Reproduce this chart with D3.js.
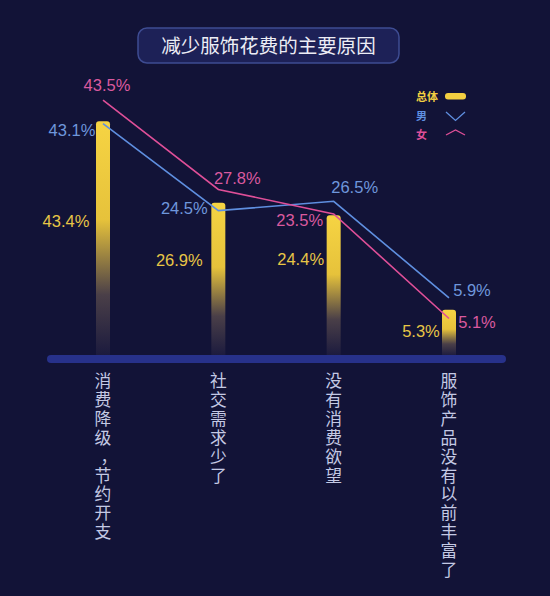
<!DOCTYPE html>
<html>
<head>
<meta charset="utf-8">
<script src="https://cdn.jsdelivr.net/npm/d3@7/dist/d3.min.js"></script>
<style>
  html, body { margin: 0; padding: 0; background: #121337; }
  svg { display: block; }
</style>
</head>
<body>
<svg id="chart" width="550" height="596"></svg>
<script>
// ---- data ----
const categories = ["消费降级，节约开支", "社交需求少了", "没有消费欲望", "服饰产品没有以前丰富了"];
const totalValues = [43.4, 26.9, 24.4, 5.3];
const maleValues = [43.1, 24.5, 26.5, 5.9];
const femaleValues = [43.5, 27.8, 23.5, 5.1];
const seriesNames = ["总体", "男", "女"];
const titleText = "减少服饰花费的主要原因";

// ---- layout (label offsets relative to their marks) ----
const totalLabelOffset = [[-37, 100], [-39, 57], [-33, 44], [-28, 21]];
const maleLabelOffset = [[-31, 6], [-34, -3], [21, -14], [23, -8]];
const femaleLabelOffset = [[4, -15], [19, -11], [-34, 6], [28, 3]];

const colors = { bg: "#121337", yellow: "#f3cf41", yellowText: "#e8c646", blue: "#5f8fe0", blueText: "#6f97dc", pink: "#df4f98", pinkText: "#da5a9f", axis: "#27318a", label: "#c4c9e4" };

const svg = d3.select("#chart");
svg.append("rect").attr("width", 550).attr("height", 596).attr("fill", colors.bg);

const x = d3.scalePoint().domain(categories).range([103, 449]);
const yTotal = d3.scaleLinear().domain([0, 45]).range([336, 336 - 45 * 4.95]);
const yMale = d3.scaleLinear().domain([0, 45]).range([325.4, 325.4 - 45 * 4.684]);
const yFemale = d3.scaleLinear().domain([0, 45]).range([347.5, 347.5 - 45 * 5.685]);
const axisY = 356;

const font = "'Noto Sans CJK SC', 'Noto Sans', sans-serif";
const stackFont = "'Liberation Sans', 'Noto Sans CJK SC', sans-serif";
const numFont = "'Liberation Sans', Arial, sans-serif";

// title
const tg = svg.append("g");
tg.append("rect").attr("x", 138).attr("y", 28).attr("width", 261).attr("height", 35).attr("rx", 9)
  .attr("fill", "#1d2157").attr("stroke", "#3e4c92").attr("stroke-width", 1.5);
tg.append("text").attr("x", 268.5).attr("y", 52.5).attr("text-anchor", "middle")
  .attr("fill", "#ecedf5").attr("font-family", font).attr("font-size", 19.5).text(titleText);

// gradient
const defs = svg.append("defs");
const grad = defs.append("linearGradient").attr("id", "barGrad").attr("x1", 0).attr("y1", 0).attr("x2", 0).attr("y2", 1);
grad.append("stop").attr("offset", "0%").attr("stop-color", "#f6d443");
grad.append("stop").attr("offset", "42%").attr("stop-color", "#e6c23b");
grad.append("stop").attr("offset", "74%").attr("stop-color", "#4a3f48");
grad.append("stop").attr("offset", "100%").attr("stop-color", "#1b1a3e");

// bars
const barW = 14;
svg.append("g").selectAll("path").data(totalValues).join("path")
  .attr("d", (d, i) => {
    const cx = x(categories[i]), top = yTotal(d), r = 3;
    const x0 = cx - barW / 2, x1 = cx + barW / 2;
    return `M${x0},${axisY} L${x0},${top + r} Q${x0},${top} ${x0 + r},${top} L${x1 - r},${top} Q${x1},${top} ${x1},${top + r} L${x1},${axisY} Z`;
  })
  .attr("fill", "url(#barGrad)");

// axis band
svg.append("rect").attr("x", 47).attr("y", axisY - 1).attr("width", 459).attr("height", 8).attr("rx", 4)
  .attr("fill", colors.axis);

// lines
const lineMale = d3.line().x((d, i) => x(categories[i])).y(d => yMale(d));
const lineFemale = d3.line().x((d, i) => x(categories[i])).y(d => yFemale(d));
svg.append("path").attr("d", lineMale(maleValues)).attr("fill", "none").attr("stroke", colors.blue).attr("stroke-width", 1.6);
svg.append("path").attr("d", lineFemale(femaleValues)).attr("fill", "none").attr("stroke", colors.pink).attr("stroke-width", 1.6);

// value labels
function labels(vals, scale, offs, color) {
  svg.append("g").selectAll("text").data(vals).join("text")
    .attr("x", (d, i) => x(categories[i]) + offs[i][0])
    .attr("y", (d, i) => scale(d) + offs[i][1])
    .attr("text-anchor", "middle").attr("dominant-baseline", "central")
    .attr("font-family", numFont).attr("font-size", 16.5).attr("fill", color)
    .text(d => d.toFixed(1) + "%");
}
labels(totalValues, yTotal, totalLabelOffset, colors.yellowText);
labels(maleValues, yMale, maleLabelOffset, colors.blueText);
labels(femaleValues, yFemale, femaleLabelOffset, colors.pinkText);

// category labels (one character per line, stacked vertically)
const cg = svg.append("g");
categories.forEach(c => {
  Array.from(c).forEach((ch, j) => {
    const isComma = ch === "，";
    cg.append("text")
      .attr("x", x(c) + (isComma ? 6 : 0))
      .attr("y", 387 + j * 18.9)
      .attr("text-anchor", "middle")
      .attr("font-family", stackFont).attr("font-size", 16.8).attr("fill", colors.label)
      .text(ch);
  });
});

// legend
const lg = svg.append("g").attr("font-family", font).attr("font-size", 11).attr("font-weight", "bold");
lg.append("text").attr("x", 416).attr("y", 96).attr("dominant-baseline", "central").attr("fill", colors.yellow).text(seriesNames[0]);
lg.append("rect").attr("x", 445).attr("y", 93).attr("width", 21).attr("height", 6.5).attr("rx", 3).attr("fill", colors.yellow);
lg.append("text").attr("x", 416).attr("y", 115).attr("dominant-baseline", "central").attr("fill", colors.blue).text(seriesNames[1]);
lg.append("path").attr("d", "M446,112 L455.5,120.5 L465,112").attr("fill", "none").attr("stroke", colors.blue).attr("stroke-width", 1.3);
lg.append("text").attr("x", 416).attr("y", 134).attr("dominant-baseline", "central").attr("fill", colors.pink).text(seriesNames[2]);
lg.append("path").attr("d", "M446,135 L455.5,130 L465,135").attr("fill", "none").attr("stroke", colors.pink).attr("stroke-width", 1.3);
</script>
</body>
</html>
